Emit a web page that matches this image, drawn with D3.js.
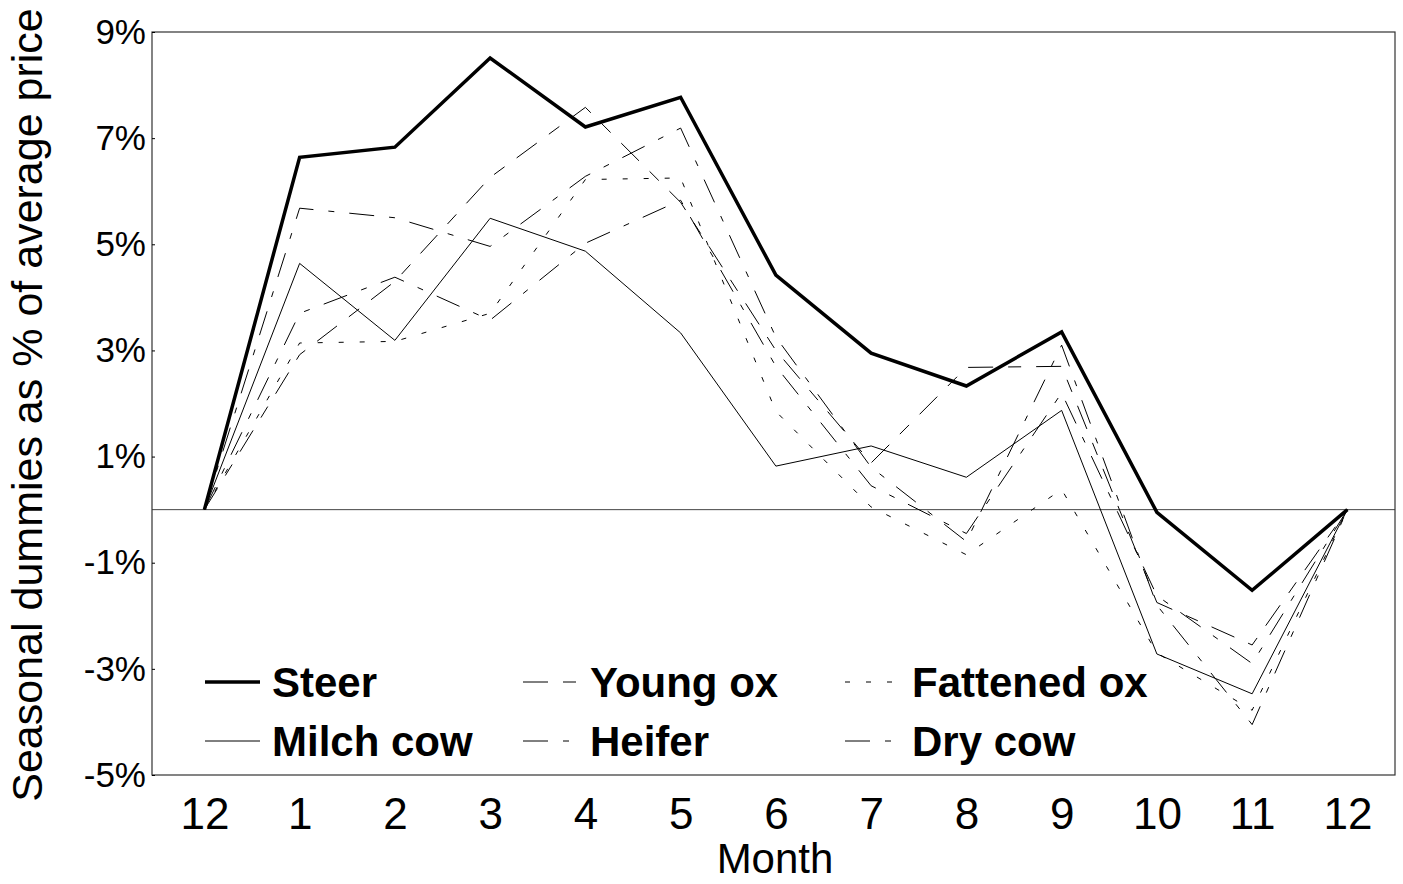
<!DOCTYPE html>
<html>
<head>
<meta charset="utf-8">
<script src="https://cdn.jsdelivr.net/npm/d3@7"></script>
<style>
    body { margin: 0; background: #ffffff; }
    svg { display: block; font-family: "Liberation Sans", Arial, sans-serif; }
</style>
</head>
<body>
<script>
(function () {
    // Month labels along the x axis (Dec to Dec)
    var months = ["12", "1", "2", "3", "4", "5", "6", "7", "8", "9", "10", "11", "12"];

    // Seasonal dummies, % of average price
    var steer = [0, 6.64, 6.83, 8.51, 7.21, 7.77, 4.42, 2.95, 2.33, 3.35, -0.05, -1.52, 0];
    var youngOx = [0, 2.92, 4.30, 6.26, 7.58, 5.79, 3.00, 0.88, 2.68, 2.70, -1.75, -2.55, 0];
    var fattenedOx = [0, 3.14, 3.17, 3.70, 6.22, 6.25, 1.85, 0.05, -0.85, 0.38, -2.70, -3.78, 0];
    var milchCow = [0, 4.64, 3.19, 5.49, 4.87, 3.33, 0.82, 1.20, 0.61, 1.87, -2.72, -3.47, 0];
    var heifer = [0, 3.70, 4.38, 3.57, 5.02, 5.83, 2.70, 0.45, -0.45, 2.20, -1.62, -2.90, 0];
    var dryCow = [0, 5.68, 5.50, 4.96, 6.28, 7.19, 3.25, 0.80, -0.60, 3.10, -1.80, -4.05, 0];

    // Y axis ticks
    var yTicks = [-5, -3, -1, 1, 3, 5, 7, 9];

    // Series in legend order (row by row)
    var seriesNames = ["Steer", "Young ox", "Fattened ox", "Milch cow", "Heifer", "Dry cow"];
    var seriesValues = [steer, youngOx, fattenedOx, milchCow, heifer, dryCow];
    var seriesWidth = [3.5, 1, 1, 1, 1, 1];
    var seriesDash = [null, "25,15,13,15", "5,16", null, "25,15,6,15", "25,15,6,15"];

    var width = 1403;
    var height = 884;

    // Plot frame
    var left = 152, right = 1395, top = 32, bottom = 775;

    var svg = d3.select("body")
        .append("svg")
        .attr("width", width)
        .attr("height", height);

    var x = d3.scaleLinear()
        .domain([-0.55, 12.5])
        .range([left, right]);

    var y = d3.scaleLinear()
        .domain([-5, 9])
        .range([bottom, top]);

    // Zero reference line
    svg.append("line")
        .attr("x1", left)
        .attr("x2", right)
        .attr("y1", y(0))
        .attr("y2", y(0))
        .style("stroke", "#444")
        .style("stroke-width", 1);

    // Series lines
    var line = d3.line()
        .x(function (d, i) { return x(i); })
        .y(function (d) { return y(d); });

    seriesValues.forEach(function (vals, k) {
        svg.append("path")
            .datum(vals)
            .attr("d", line)
            .style("fill", "none")
            .style("stroke", "#000")
            .style("stroke-width", seriesWidth[k])
            .style("stroke-linejoin", "miter")
            .style("stroke-dasharray", seriesDash[k]);
    });

    // Frame border
    svg.append("rect")
        .attr("x", left)
        .attr("y", top)
        .attr("width", right - left)
        .attr("height", bottom - top)
        .style("fill", "none")
        .style("stroke", "#333")
        .style("stroke-width", 1.2);

    // Y axis
    var yAxis = svg.append("g")
        .attr("transform", "translate(" + left + ",0)")
        .call(d3.axisLeft(y)
            .tickValues(yTicks)
            .tickSize(-3)
            .tickPadding(6)
            .tickFormat(function (d) { return d + "%"; }));
    yAxis.select(".domain").remove();
    yAxis.selectAll("text")
        .style("font-size", "35px")
        .style("font-family", "Liberation Sans, Arial, sans-serif")
        .attr("fill", "#000");

    // X axis
    var xAxis = svg.append("g")
        .attr("transform", "translate(0," + bottom + ")")
        .call(d3.axisBottom(x)
            .tickValues(d3.range(months.length))
            .tickSize(0)
            .tickPadding(23)
            .tickFormat(function (d) { return months[d]; }));
    xAxis.select(".domain").remove();
    xAxis.selectAll("text")
        .style("font-size", "44px")
        .style("font-family", "Liberation Sans, Arial, sans-serif")
        .attr("fill", "#000");

    // Axis titles
    svg.append("text")
        .attr("x", 775)
        .attr("y", 873)
        .attr("text-anchor", "middle")
        .style("font-size", "42px")
        .text("Month");

    svg.append("text")
        .attr("transform", "translate(42,405) rotate(-90)")
        .attr("text-anchor", "middle")
        .style("font-size", "43px")
        .text("Seasonal dummies as % of average price");

    // Legend, 3 columns x 2 rows
    var legendCols = [205, 523, 845];
    var legendRows = [682, 741];

    seriesNames.forEach(function (name, k) {
        var lx = legendCols[k % 3];
        var ly = legendRows[Math.floor(k / 3)];
        svg.append("line")
            .attr("x1", lx)
            .attr("x2", lx + 55)
            .attr("y1", ly)
            .attr("y2", ly)
            .style("stroke", "#000")
            .style("stroke-width", seriesWidth[k])
            .style("stroke-dasharray", seriesDash[k]);
        svg.append("text")
            .attr("x", lx + 67)
            .attr("y", ly)
            .attr("dy", "0.36em")
            .style("font-size", "42px")
            .style("font-weight", "bold")
            .text(name);
    });
})();
</script>
</body>
</html>
